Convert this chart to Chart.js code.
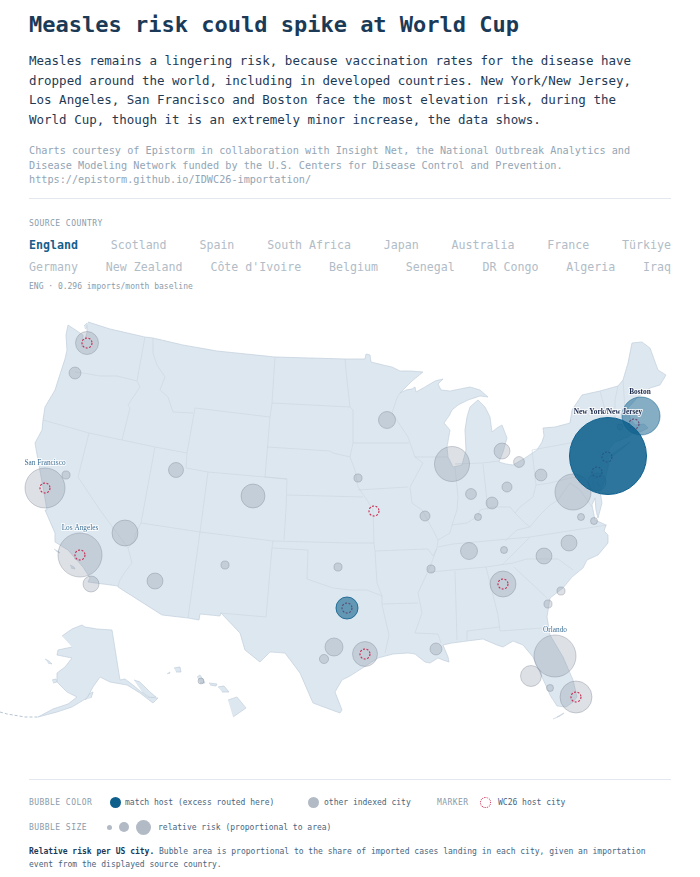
<!DOCTYPE html>
<html>
<head>
<meta charset="utf-8">
<title>Measles risk could spike at World Cup</title>
<script src="https://cdn.jsdelivr.net/npm/chart.js@4"></script>
<style>
  html, body { margin: 0; padding: 0; background: #fff; }
  body { width: 700px; height: 877px; position: relative; overflow: hidden;
         font-family: "DejaVu Sans Mono", monospace; }
  .t { position: absolute; white-space: nowrap; }
  .rule { position: absolute; left: 29px; width: 642px; height: 1px; background: #e2e8ee; }
  .cap { font-size: 8px; letter-spacing: .45px; color: #8b9cab; }
  .leg { font-size: 8px; color: #47657e; }
  .dot { position: absolute; border-radius: 50%; }
  .row { position: absolute; left: 29px; width: 642px; display: flex; justify-content: space-between;
         font-size: 11.6px; color: #b1bcc7; }
  #map { position: absolute; left: 0; top: 300px; }
</style>
</head>
<body>
<div class="t" style="left:29px;top:12px;font-size:22px;font-weight:700;color:#1b3a57">Measles risk could spike at World Cup</div>
<div class="t" style="left:29px;top:51px;font-size:12.5px;line-height:19.7px;color:#1e3a55">Measles remains a lingering risk, because vaccination rates for the disease have<br>dropped around the world, including in developed countries. New York/New Jersey,<br>Los Angeles, San Francisco and Boston face the most elevation risk, during the<br>World Cup, though it is an extremely minor increase, the data shows.</div>
<div class="t" style="left:29px;top:144px;font-size:10.2px;line-height:14.5px;color:#93a5b5">Charts courtesy of Epistorm in collaboration with Insight Net, the National Outbreak Analytics and<br>Disease Modeling Network funded by the U.S. Centers for Disease Control and Prevention.<br>https://epistorm.github.io/IDWC26-importation/</div>
<div class="rule" style="top:198px"></div>
<div class="t cap" style="left:29px;top:219px">SOURCE COUNTRY</div>
<div class="row" style="top:238px" id="row1"></div>
<div class="row" style="top:260px" id="row2"></div>
<div class="t cap" style="left:29px;top:282px;letter-spacing:0">ENG · 0.296 imports/month baseline</div>

<canvas id="map" width="700" height="430"></canvas>

<div class="rule" style="top:779px"></div>
<div class="t cap" style="left:29px;top:798px">BUBBLE COLOR</div>
<div class="dot" style="left:110px;top:797px;width:11px;height:11px;background:#0f5f8c"></div>
<div class="t leg" style="left:125px;top:798px">match host (excess routed here)</div>
<div class="dot" style="left:308px;top:797px;width:11px;height:11px;background:#b1bac5"></div>
<div class="t leg" style="left:324px;top:798px">other indexed city</div>
<div class="t cap" style="left:437px;top:798px">MARKER</div>
<div class="dot" style="left:480px;top:797px;width:9px;height:9px;border:1px dotted #c8284f"></div>
<div class="t leg" style="left:498px;top:798px">WC26 host city</div>
<div class="t cap" style="left:29px;top:823px">BUBBLE SIZE</div>
<div class="dot" style="left:107px;top:825px;width:5px;height:5px;background:#b1bac5"></div>
<div class="dot" style="left:119px;top:822px;width:10px;height:10px;background:#b1bac5"></div>
<div class="dot" style="left:136px;top:820px;width:15px;height:15px;background:#b1bac5"></div>
<div class="t leg" style="left:158px;top:823px">relative risk (proportional to area)</div>
<div class="t leg" style="left:29px;top:846px;line-height:12.5px"><b style="color:#1b3a57">Relative risk per US city.</b> Bubble area is proportional to the share of imported cases landing in each city, given an importation<br>event from the displayed source country.</div>

<script>
// country selector
const countriesRow1 = ['England', 'Scotland', 'Spain', 'South Africa', 'Japan', 'Australia', 'France', 'Türkiye'];
const countriesRow2 = ['Germany', 'New Zealand', "Côte d'Ivoire", 'Belgium', 'Senegal', 'DR Congo', 'Algeria', 'Iraq'];

// other indexed cities, map units
const otherNames = ['Seattle', 'Portland', 'San Francisco', 'Sacramento', 'Salt Lake City', 'Denver', 'Las Vegas', 'Los Angeles', 'San Diego', 'Phoenix', 'Albuquerque', 'Oklahoma City', 'Austin', 'San Antonio', 'Houston', 'New Orleans', 'Atlanta', 'Nashville', 'Knoxville', 'Charlotte', 'Raleigh', 'Richmond', 'Norfolk', 'Charleston', 'Jacksonville', 'Orlando', 'Tampa', 'Fort Myers', 'Miami', 'Minneapolis', 'Chicago', 'Detroit', 'Cleveland', 'Pittsburgh', 'Columbus', 'Indianapolis', 'Cincinnati', 'Louisville', 'St. Louis', 'Omaha', 'Washington DC', 'Memphis', 'Philadelphia', 'Hartford', 'Honolulu'];
const otherX = [87, 75, 45, 66, 176, 253, 125, 80, 91, 155, 225, 338, 334, 324, 365, 436, 503, 469, 504, 544, 569, 581, 594, 561, 548, 555, 531, 550, 576, 387, 452, 502, 519, 541, 507, 471, 492, 478, 425, 358, 573, 431, 597, 620, 201];
const otherY = [343, 373, 488, 475, 470, 496, 533, 555, 584, 581, 565, 567, 647, 659, 654, 649, 584, 551, 550, 556, 543, 517, 521, 591, 604, 656, 676, 688, 697, 420, 464, 451, 462, 475, 487, 494, 503, 517, 516, 478, 492, 569, 482, 427, 681];
const otherRisk = [8.9, 2.4, 27, 1.1, 3.8, 9.7, 11.4, 32.7, 4.3, 4.3, 1.1, 1.1, 5.5, 1.4, 10.5, 2.4, 11.4, 4.9, 0.83, 4.3, 4.3, 0.83, 0.83, 1.1, 1.1, 29.8, 7.4, 0.83, 17.3, 4.9, 20.7, 4.3, 2, 2.4, 1.7, 2, 2.4, 0.83, 1.7, 1.1, 21.9, 1.1, 5.5, 0.6, 0.6];

// match hosts, excess is routed here
const matchNames = ['Dallas', 'Boston', 'New York/New Jersey'];
const matchX = [347, 641, 608];
const matchY = [608, 416, 456];
const matchRisk = [8.2, 24.4, 100];

// WC26 host city markers
const hostNames = ['Seattle', 'San Francisco', 'Los Angeles', 'Kansas City', 'Dallas', 'Houston', 'Atlanta', 'Miami', 'Philadelphia', 'New York/New Jersey', 'Boston'];
const hostX = [87, 45, 80, 374, 347, 365, 503, 576, 597, 607, 634];
const hostY = [343, 488, 555, 511, 608, 654, 584, 697, 472, 457, 424];

// named city labels
const labelNames = ['New York/New Jersey', 'Boston', 'San Francisco', 'Los Angeles', 'Orlando'];
const labelX = [608, 640, 45, 80, 555];
const labelY = [412, 392, 463, 528, 630];

// lower 48 outline
const landOutline = [[88,322],[110,329],[145,337],[153,338],[183,345],[217,351],[275,357],[345,359],[365,359],[366,354],[370,355],[371,362],[383,365],[392,367],[400,371],[410,371],[423,372],[412,381],[400,393],[406,390],[412,389],[415,387],[416,392],[425,387],[435,381],[443,379],[438,384],[441,390],[450,391],[460,389],[470,387],[480,390],[488,397],[480,396],[468,400],[458,405],[452,410],[449,416],[444,423],[450,430],[447,447],[448,457],[453,467],[462,465],[466,450],[465,430],[467,417],[470,407],[478,400],[485,407],[490,417],[492,432],[497,428],[502,425],[507,438],[503,452],[499,462],[506,464],[513,465],[525,458],[537,450],[542,442],[544,436],[543,428],[555,427],[570,423],[572,410],[582,395],[600,391],[618,386],[623,380],[628,363],[632,343],[642,342],[650,348],[658,370],[666,375],[660,385],[650,388],[637,398],[628,408],[630,418],[635,425],[644,424],[648,428],[640,432],[633,433],[628,437],[615,442],[609,449],[608,456],[609,463],[605,480],[601,489],[597,482],[600,491],[602,503],[598,518],[596,510],[595,498],[592,505],[595,520],[606,525],[604,531],[608,535],[608,543],[603,549],[598,555],[587,560],[583,568],[572,577],[563,588],[550,598],[547,617],[550,635],[563,657],[573,680],[577,697],[573,702],[566,707],[557,706],[550,695],[548,690],[542,677],[533,657],[523,645],[513,641],[503,647],[497,645],[483,639],[467,641],[460,642],[452,643],[443,645],[448,657],[449,662],[443,660],[438,658],[430,663],[425,662],[415,654],[408,653],[393,654],[378,658],[350,676],[342,680],[335,692],[342,710],[340,713],[313,703],[300,673],[285,653],[270,652],[260,662],[245,650],[240,633],[221,613],[220,616],[200,614],[199,620],[188,618],[162,615],[118,587],[118,586],[88,582],[90,578],[83,567],[68,550],[55,542],[55,533],[45,510],[47,510],[43,487],[38,460],[35,443],[42,430],[43,420],[45,407],[55,390],[63,365],[65,359],[67,350],[66,335],[68,325],[83,335],[82,347],[87,333],[87,325]];

// internal state lines
const stateLines = [
  [[75,372],[83,373],[100,376],[117,376],[137,381]],
  [[145,337],[137,381],[140,387],[128,405],[130,408],[122,440]],
  [[43,420],[89,433],[122,440],[155,447],[187,453]],
  [[89,433],[78,477],[100,510],[128,548],[132,563],[125,572],[120,580],[118,586]],
  [[155,447],[141,523],[135,535],[135,540],[128,548]],
  [[153,338],[153,353],[157,365],[165,377],[160,390],[168,397],[173,412],[193,413]],
  [[195,408],[187,453],[186,468],[208,472],[200,532],[188,618]],
  [[195,408],[270,417]],
  [[208,472],[287,479],[286,510],[284,540]],
  [[275,357],[272,403],[270,417],[265,477],[287,479]],
  [[272,403],[350,407]],
  [[267,447],[330,451],[333,453],[350,457]],
  [[287,495],[363,497]],
  [[141,523],[200,532],[273,541],[350,543],[374,543]],
  [[273,541],[272,548],[266,617],[220,613]],
  [[272,548],[308,550],[307,579],[333,588],[350,590],[367,590],[382,596],[382,605],[389,635],[385,653]],
  [[345,359],[347,380],[350,407],[353,410],[353,443],[350,457],[355,470],[358,487],[367,500],[373,510],[374,543],[375,551],[377,583],[382,596]],
  [[353,443],[409,443]],
  [[358,490],[408,487]],
  [[375,551],[428,549],[433,556],[437,548]],
  [[438,540],[437,548],[430,567],[418,593],[422,613],[415,633],[438,634],[441,643]],
  [[382,604],[418,603]],
  [[455,571],[457,640]],
  [[430,572],[486,567],[513,563]],
  [[486,567],[498,615],[500,631],[542,628],[547,627]],
  [[467,631],[500,627]],
  [[467,631],[467,640]],
  [[438,547],[453,544],[530,537],[607,525]],
  [[530,537],[502,565]],
  [[513,563],[527,559],[558,559],[573,570]],
  [[514,567],[547,598]],
  [[400,393],[397,398],[392,413],[408,437],[415,457],[423,463],[410,487],[412,503],[422,510],[433,530],[438,540],[450,533],[452,525],[467,523],[478,516],[480,510],[493,507],[510,507],[515,513],[525,523],[530,527],[538,517],[550,505],[558,500],[565,490],[570,483],[580,490],[585,497],[592,507]],
  [[415,457],[448,457]],
  [[455,467],[458,497],[457,510],[452,525]],
  [[455,464],[483,463],[499,461]],
  [[483,464],[488,510]],
  [[532,450],[536,485],[533,497],[520,507],[515,513]],
  [[536,485],[550,483],[570,478],[592,476],[594,490],[602,490]],
  [[532,450],[570,443],[590,438],[598,450],[603,457]],
  [[590,477],[597,465],[608,456]],
  [[600,391],[607,417],[608,427],[608,442]],
  [[608,427],[632,422]],
  [[618,386],[615,400],[615,419],[627,416]],
  [[623,380],[625,410]],
  [[620,427],[620,442]],
  [[505,541],[517,530],[530,527]]
];

// Alaska, Hawaii and the small islands
const alaskaOutline = [[62,636],[72,629],[82,625],[85,627],[97,629],[112,630],[120,680],[125,679],[133,685],[147,697],[158,698],[153,703],[140,693],[127,685],[110,682],[100,677],[93,687],[87,698],[72,707],[57,712],[38,717],[53,709],[68,704],[77,697],[67,692],[57,682],[57,673],[65,667],[72,658],[57,655],[58,650],[72,647]];
const aleutianLine = [[0,712],[7,714],[25,717],[38,717]];
const islands = [
  [[45,659],[49,661],[52,664],[48,663]],
  [[52,680],[56,679],[57,682],[53,683]],
  [[85,700],[89,694],[93,692],[91,698]],
  [[134,680],[140,682],[150,692],[156,697],[150,698],[142,692]],
  [[228,700],[237,697],[246,708],[233,717]],
  [[218,687],[224,686],[229,692],[222,692]],
  [[209,683],[217,684],[216,686],[210,685]],
  [[197,677],[200,675],[205,683],[200,683]],
  [[174,668],[180,667],[181,672],[176,672]],
  [[167,674],[170,672],[169,674]],
  [[553,719],[560,716],[564,713],[557,717]],
  [[609,456],[630,442],[622,449],[610,458]],
  [[84,326],[87,323],[88,327],[85,329]],
  [[54,549],[59,552],[60,553],[56,551]],
  [[70,565],[74,567],[75,569],[71,568]],
  [[74,556],[77,559],[76,560],[74,558]]
];

const xy = ([x, y]) => ({ x, y });
const polyDs = (pts) => ({
  type: 'line', data: pts.map(xy), fill: 'shape', backgroundColor: '#dde7ef',
  borderColor: '#bfcddb', borderWidth: 0.7, pointRadius: 0, tension: 0.001, order: 5
});
// area of a bubble follows the relative risk
const riskR = (risk) => Math.sqrt(risk) * 3.85;

const fillRow = (id, names, active) => {
  document.getElementById(id).innerHTML = names.map((n) =>
    n === active ? '<span style="color:#15608c;font-weight:700">' + n + '</span>' : '<span>' + n + '</span>').join('');
};
fillRow('row1', countriesRow1, 'England');
fillRow('row2', countriesRow2, '');

const cityLabels = {
  id: 'cityLabels',
  afterDatasetsDraw(chart) {
    const { ctx, scales } = chart;
    ctx.save();
    ctx.textAlign = 'center';
    ctx.textBaseline = 'middle';
    labelNames.forEach((name, i) => {
      const px = scales.x.getPixelForValue(labelX[i]);
      const py = scales.y.getPixelForValue(labelY[i]);
      const strong = i < 2;
      ctx.font = (strong ? 'bold ' : '') + '7.3px "Liberation Serif", serif';
      ctx.lineWidth = 2;
      ctx.strokeStyle = 'rgba(255,255,255,.8)';
      ctx.lineJoin = 'round';
      ctx.strokeText(name, px, py);
      ctx.fillStyle = strong ? '#1b2a4a' : '#3f7096';
      ctx.fillText(name, px, py);
    });
    ctx.restore();
  },
  // dashed ring for the host markers
  beforeDatasetDraw(chart, args) {
    if (chart.data.datasets[args.index].label === 'hosts') {
      chart.ctx.save();
      chart.ctx.setLineDash([2, 1.5]);
    }
  },
  afterDatasetDraw(chart, args) {
    if (chart.data.datasets[args.index].label === 'hosts') chart.ctx.restore();
  }
};

new Chart(document.getElementById('map').getContext('2d'), {
  type: 'bubble',
  plugins: [cityLabels],
  data: {
    datasets: [
      polyDs(landOutline),
      polyDs(alaskaOutline),
      ...islands.map(polyDs),
      { type: 'line', data: aleutianLine.map(xy), borderColor: '#b4c5d3', borderWidth: 1, borderDash: [3, 2], pointRadius: 0, order: 5 },
      ...stateLines.map((l) => ({ type: 'line', data: l.map(xy), borderColor: '#cad5df', borderWidth: 0.6, pointRadius: 0, tension: 0.001, order: 4 })),
      {
        label: 'other',
        data: otherNames.map((n, i) => ({ x: otherX[i], y: otherY[i], r: riskR(otherRisk[i]) })),
        backgroundColor: 'rgba(130,140,155,.27)', borderColor: 'rgba(120,130,145,.45)', borderWidth: 0.8, order: 3
      },
      {
        label: 'hosts',
        data: hostNames.map((n, i) => ({ x: hostX[i], y: hostY[i], r: 5 })),
        backgroundColor: 'rgba(0,0,0,0)', borderColor: '#c8284f', borderWidth: 1.1, order: 2
      },
      {
        label: 'match',
        data: matchNames.map((n, i) => ({ x: matchX[i], y: matchY[i], r: riskR(matchRisk[i]) })),
        backgroundColor: ['rgba(11,94,140,.58)', 'rgba(11,94,140,.5)', 'rgba(11,94,140,.86)'],
        borderColor: ['rgba(11,94,140,.8)', 'rgba(11,94,140,.5)', 'rgba(11,94,140,.95)'], borderWidth: 1, order: 1
      }
    ]
  },
  options: {
    responsive: false,
    animation: false,
    parsing: { xAxisKey: 'x', yAxisKey: 'y' },
    layout: { padding: 0, autoPadding: false },
    plugins: { legend: { display: false }, tooltip: { enabled: false } },
    scales: {
      x: { type: 'linear', display: false, min: 0, max: 700 },
      y: { type: 'linear', display: false, min: 300, max: 730, reverse: true }
    }
  }
});
</script>
</body>
</html>
